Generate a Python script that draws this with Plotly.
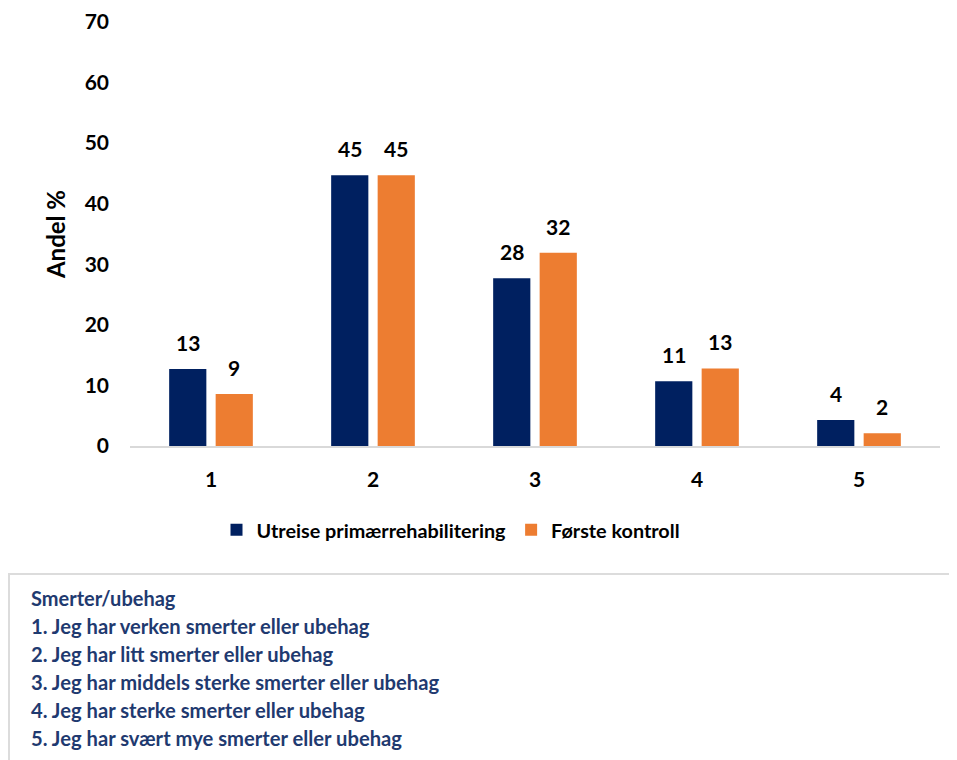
import plotly.graph_objects as go

categories = ["1", "2", "3", "4", "5"]
utreise = [12.7, 44.7, 27.7, 10.7, 4.3]
forste = [8.6, 44.7, 31.9, 12.8, 2.1]
series_names = ["Utreise primærrehabilitering", "Første kontroll"]
y_ticks = [0, 10, 20, 30, 40, 50, 60, 70]
box_title = "Smerter/ubehag"
box_lines = [
    "1. Jeg har verken smerter eller ubehag",
    "2. Jeg har litt smerter eller ubehag",
    "3. Jeg har middels sterke smerter eller ubehag",
    "4. Jeg har sterke smerter eller ubehag",
    "5. Jeg har svært mye smerter eller ubehag",
]

NAVY = "#002060"
ORANGE = "#ED7D31"
FONT = "Lato"
BOX_TXT = "#1f3a70"

# the page adds an 8px body margin, so targets are shifted back by it
OFF = 8
W, H = 957, 760
PLOT_L, PLOT_R, PLOT_T, PLOT_B = 130, 940, 22, 446   # target page pixels
L, R, T, B = PLOT_L - OFF, W - (PLOT_R - OFF), PLOT_T - OFF, H - (PLOT_B - OFF)


def px_x(x):
    return (x - PLOT_L) / (PLOT_R - PLOT_L)


def px_y(y):
    return (PLOT_B - y) / (PLOT_B - PLOT_T)


fig = go.Figure()
fig.add_trace(go.Bar(x=categories, y=utreise, name=series_names[0],
                     marker=dict(color=NAVY, line=dict(width=0))))
fig.add_trace(go.Bar(x=categories, y=forste, name=series_names[1],
                     marker=dict(color=ORANGE, line=dict(width=0))))

# value labels above bars
annotations = []
for vals, shift in ((utreise, -23), (forste, 23)):
    for i, v in enumerate(vals):
        annotations.append(dict(x=i, y=v, xref="x", yref="y", text=f"{v:.0f}", showarrow=False,
                                xshift=shift, yshift=12, yanchor="bottom",
                                font=dict(family=FONT, size=21, color="black", weight="bold")))

# explanation box below
annotations.append(dict(x=px_x(29), y=px_y(598), xref="paper", yref="paper", text=box_title,
                        showarrow=False, xanchor="left", yanchor="middle",
                        font=dict(family=FONT, size=20, color=BOX_TXT, weight="bold")))
for i, line in enumerate(box_lines):
    annotations.append(dict(x=px_x(29), y=px_y(626 + i * 28), xref="paper", yref="paper",
                            text=line, showarrow=False, xanchor="left", yanchor="middle",
                            font=dict(family=FONT, size=20.2, color=BOX_TXT, weight="bold")))

# box frame: top and left edges only (it runs off the page on the other sides)
bx0, bx1, by0, by1 = px_x(9), px_x(1100), px_y(574), px_y(900)
box_path = f"M {bx1},{by0} L {bx0},{by0} L {bx0},{by1}"

fig.update_layout(
    width=W, height=H,
    margin=dict(l=L, r=R, t=T, b=B, autoexpand=False),
    plot_bgcolor="white", paper_bgcolor="white",
    barmode="group", bargap=0.426, bargroupgap=0.2,
    font=dict(family=FONT, size=20, color="black"),
    showlegend=True,
    legend=dict(orientation="h", x=px_x(451), xanchor="center", y=px_y(530), yanchor="middle",
                font=dict(family=FONT, size=19.8, color="black", weight="bold"),
                itemclick=False),
    annotations=annotations,
    shapes=[dict(type="path", xref="paper", yref="paper", path=box_path,
                 line=dict(color="#dcdcdc", width=2))],
)
fig.update_xaxes(showline=True, linecolor="#d9d9d9", linewidth=2, showgrid=False,
                 ticks="", ticklabelstandoff=14, automargin=False,
                 tickfont=dict(family=FONT, size=21, color="black", weight="bold"))
fig.update_yaxes(range=[0, 70], tickvals=y_ticks, showline=False, showgrid=False,
                 zeroline=False, ticks="", ticklabelstandoff=20, automargin=False,
                 tickfont=dict(family=FONT, size=21, color="black", weight="bold"),
                 title=dict(text="Andel %", standoff=12,
                            font=dict(family=FONT, size=24, color="black", weight="bold")))

fig.write_html("out.html")
